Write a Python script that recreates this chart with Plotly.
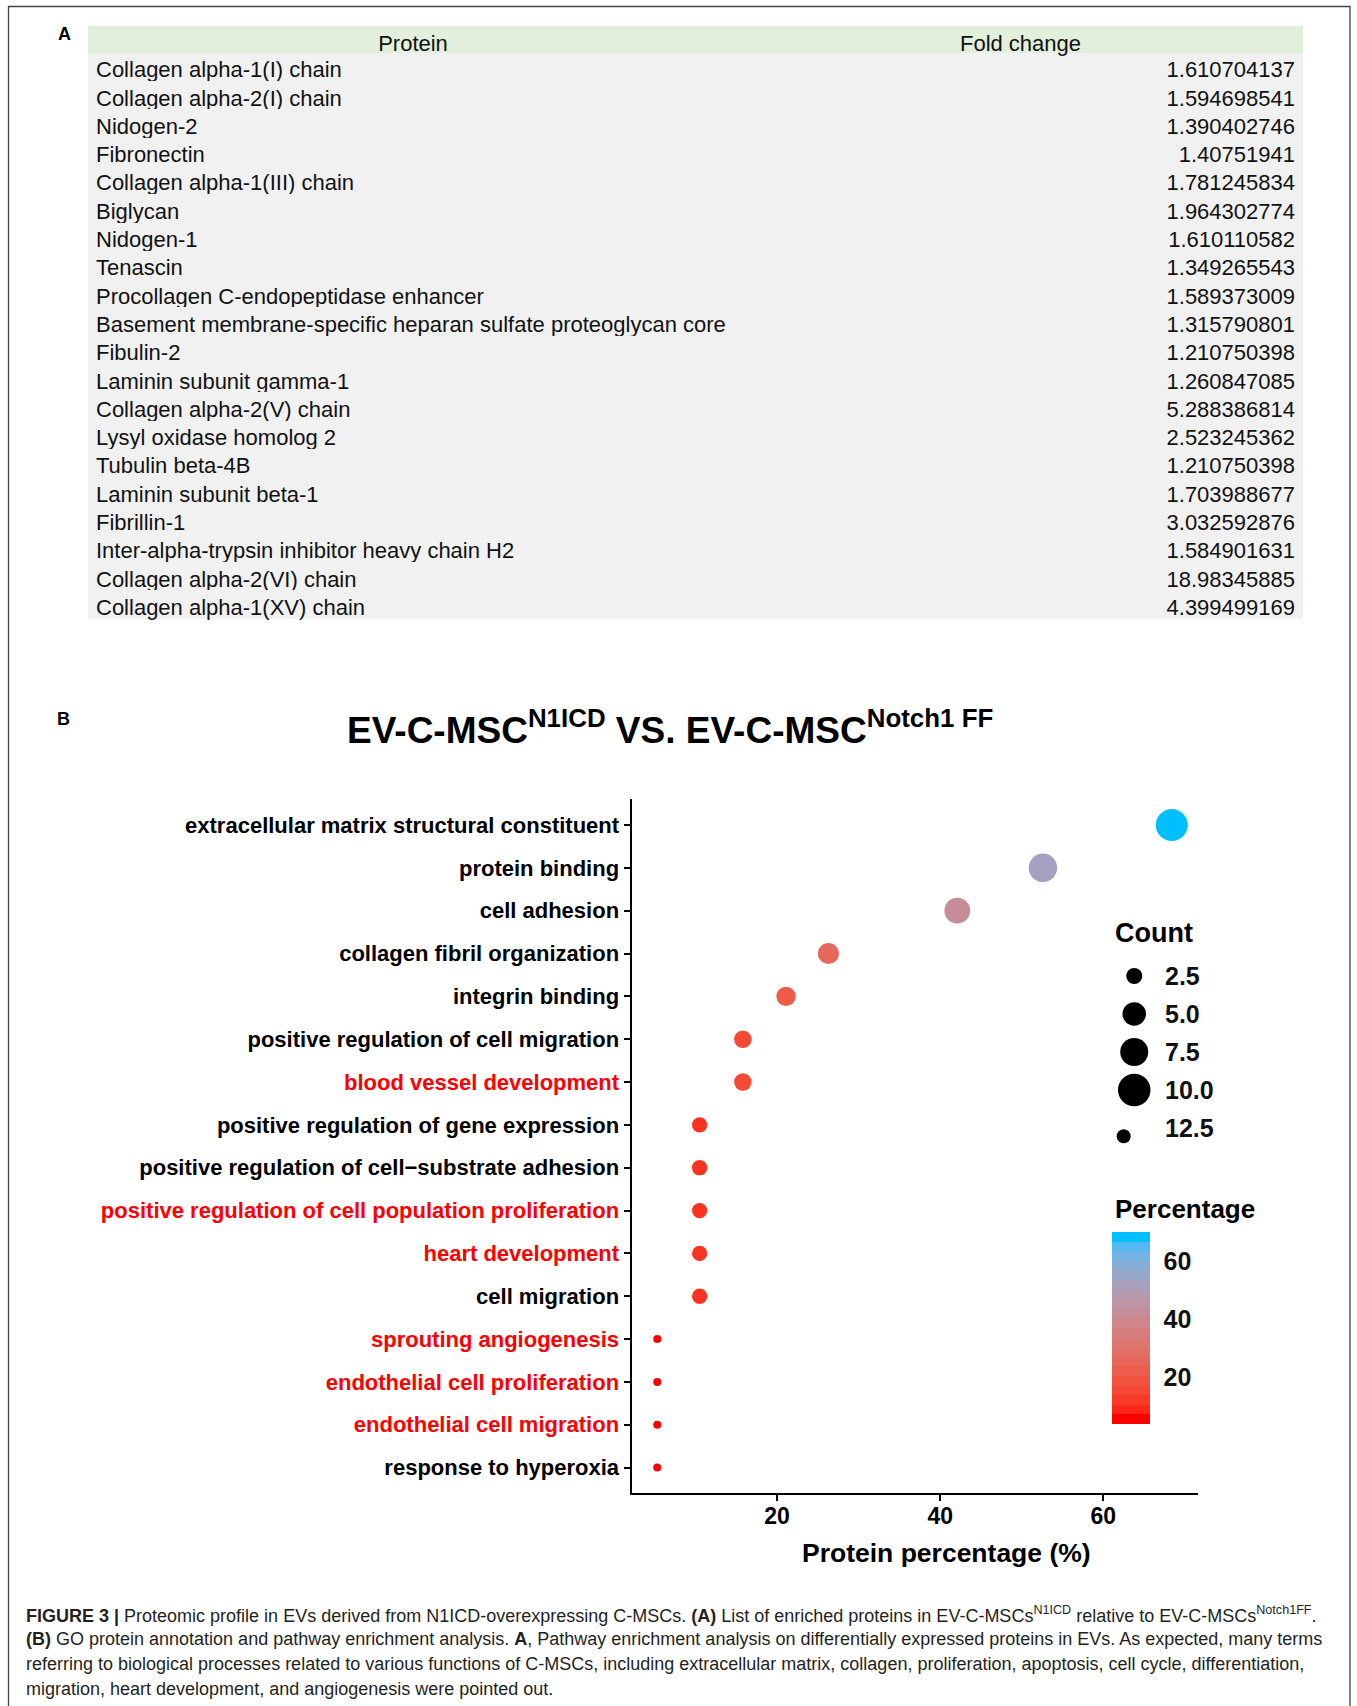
import numpy as np
import plotly.graph_objects as go

W, H = 1357, 1706
FONT = "Liberation Sans, Arial, Helvetica, sans-serif"

# ---------------- Panel A data ----------------
proteins = [
    "Collagen alpha-1(I) chain", "Collagen alpha-2(I) chain", "Nidogen-2", "Fibronectin",
    "Collagen alpha-1(III) chain", "Biglycan", "Nidogen-1", "Tenascin",
    "Procollagen C-endopeptidase enhancer",
    "Basement membrane-specific heparan sulfate proteoglycan core",
    "Fibulin-2", "Laminin subunit gamma-1", "Collagen alpha-2(V) chain",
    "Lysyl oxidase homolog 2", "Tubulin beta-4B", "Laminin subunit beta-1",
    "Fibrillin-1", "Inter-alpha-trypsin inhibitor heavy chain H2",
    "Collagen alpha-2(VI) chain", "Collagen alpha-1(XV) chain",
]
fold_change = [
    1.610704137, 1.594698541, 1.390402746, 1.40751941, 1.781245834, 1.964302774,
    1.610110582, 1.349265543, 1.589373009, 1.315790801, 1.210750398, 1.260847085,
    5.288386814, 2.523245362, 1.210750398, 1.703988677, 3.032592876, 1.584901631,
    18.98345885, 4.399499169,
]
table_headers = ["Protein", "Fold change"]

# ---------------- Panel B data ----------------
go_terms = [
    "extracellular matrix structural constituent", "protein binding", "cell adhesion",
    "collagen fibril organization", "integrin binding",
    "positive regulation of cell migration", "blood vessel development",
    "positive regulation of gene expression",
    "positive regulation of cell\u2212substrate adhesion",
    "positive regulation of cell population proliferation", "heart development",
    "cell migration", "sprouting angiogenesis", "endothelial cell proliferation",
    "endothelial cell migration", "response to hyperoxia",
]
protein_pct = [68.4, 52.6, 42.1, 26.3, 21.1, 15.8, 15.8, 10.5, 10.5, 10.5, 10.5, 10.5,
               5.3, 5.3, 5.3, 5.3]
counts = [13, 10, 8, 5, 4, 3, 3, 2, 2, 2, 2, 2, 1, 1, 1, 1]
highlighted_terms = [
    "blood vessel development", "positive regulation of cell population proliferation",
    "heart development", "sprouting angiogenesis", "endothelial cell proliferation",
    "endothelial cell migration",
]
x_tick_values = [20, 40, 60]
legend_counts = [2.5, 5.0, 7.5, 10.0, 12.5]
colorbar_ticks = [20, 40, 60]

# ---------------- style helpers ----------------
def fx(px):
    return px / W


def fy(py):
    return 1 - py / H


M = np.array([[0.4124564, 0.3575761, 0.1804375],
              [0.2126729, 0.7151522, 0.0721750],
              [0.0193339, 0.1191920, 0.9503041]])
WHITE = np.array([0.95047, 1.0, 1.08883])


def hex_to_lab(h):
    rgb = np.array([int(h[i:i + 2], 16) for i in (1, 3, 5)], float) / 255
    lin = np.where(rgb <= 0.04045, rgb / 12.92, ((rgb + 0.055) / 1.055) ** 2.4)
    xyz = M @ lin / WHITE
    f = np.where(xyz > 0.008856, np.cbrt(xyz), 7.787 * xyz + 16 / 116)
    return np.array([116 * f[1] - 16, 500 * (f[0] - f[1]), 200 * (f[1] - f[2])])


def lab_to_hex(lab):
    L, a, b = lab
    fyv = (L + 16) / 116
    f = np.array([fyv + a / 500, fyv, fyv - b / 200])
    xyz = np.where(f ** 3 > 0.008856, f ** 3, (f - 16 / 116) / 7.787) * WHITE
    lin = np.clip(np.linalg.solve(M, xyz), 0, 1)
    s = np.where(lin <= 0.0031308, 12.92 * lin, 1.055 * lin ** (1 / 2.4) - 0.055)
    s = np.clip(s, 0, 1)
    return "#%02x%02x%02x" % tuple(int(round(v * 255)) for v in s)


LOW, HIGH = hex_to_lab("#ff0000"), hex_to_lab("#00bfff")


def ramp(t):
    return lab_to_hex(LOW + (HIGH - LOW) * t)


smooth_scale = [[t, ramp(t)] for t in np.linspace(0, 1, 25)]

pmin, pmax = min(protein_pct), max(protein_pct)
NBIN = 20
half_bin = (pmax - pmin) / (NBIN - 1) / 2
bar_lo, bar_hi = pmin - half_bin, pmax + half_bin
stepped_scale = []
for i in range(NBIN):
    c = ramp(i / (NBIN - 1))
    stepped_scale.append([i / NBIN, c])
    stepped_scale.append([(i + 1) / NBIN, c])


def count_to_diameter(c):
    return float(np.sqrt(np.interp(c, [1, 2, 13], [64, 234, 1024])))


dot_sizes = [count_to_diameter(c) for c in counts]
legend_key_diam = [16, 23.5, 28, 32.5, 14]
legend_key_x = [0.214, 0.214, 0.214, 0.214, 0.148]
legend_key_dy = [0, 0, 0, 0, 0.55]

span = pmax - pmin
x_range = [pmin - 0.05 * span, pmax + 0.05 * span]

tick_text = [
    ('<span style="color:#ff0000">%s</span>' % t) if t in highlighted_terms else t
    for t in go_terms
]

# non-breaking spaces keep each protein name on one line inside the table
protein_cells = [p.replace(" ", "\u00a0") for p in proteins]

fig = go.Figure()

# ---------------- Panel A table ----------------
fig.add_trace(go.Table(
    domain=dict(x=[fx(88), fx(1303.5)], y=[fy(660), fy(26)]),
    columnwidth=[650, 565],
    header=dict(values=table_headers, fill_color="#e2efda", align="center",
                line=dict(color="#e2efda", width=0), height=26.7,
                font=dict(family=FONT, size=22, color="#111111")),
    cells=dict(values=[protein_cells, fold_change], fill_color="#f1f1f1",
               align=["left", "right"], line=dict(color="#f1f1f1", width=0),
               height=28.3, font=dict(family=FONT, size=22, color="#111111")),
))

# ---------------- Panel B dot plot ----------------
fig.add_trace(go.Scatter(
    x=protein_pct, y=go_terms, mode="markers", xaxis="x", yaxis="y",
    marker=dict(size=dot_sizes, color=protein_pct, colorscale=smooth_scale,
                cmin=pmin, cmax=pmax, showscale=False, line=dict(width=0), opacity=1),
    hovertemplate="%{y}<br>%{x}%<extra></extra>",
))

CB_LEFT, CB_TOP, CB_LEN, CB_THICK = 1112.3, 1232.3, 191.7, 38.4
fig.add_trace(go.Scatter(
    x=[None] * len(protein_pct), y=[None] * len(protein_pct), mode="markers",
    xaxis="x2", yaxis="y2", hoverinfo="skip",
    marker=dict(color=protein_pct, colorscale=stepped_scale, cmin=bar_lo, cmax=bar_hi,
                showscale=True,
                colorbar=dict(x=fx(CB_LEFT), xanchor="left", y=fy(CB_TOP + CB_LEN / 2),
                              yanchor="middle", len=CB_LEN, lenmode="pixels",
                              thickness=CB_THICK, thicknessmode="pixels", xpad=0, ypad=0,
                              outlinewidth=0, tickvals=colorbar_ticks, ticks="outside",
                              ticklen=9, tickcolor="rgba(0,0,0,0)",
                              tickfont=dict(family=FONT, size=25, color="#111111",
                                            weight="bold"))),
))

# size legend keys
fig.add_trace(go.Scatter(
    x=legend_key_x, y=[v + d for v, d in zip(legend_counts, legend_key_dy)],
    mode="markers", xaxis="x2", yaxis="y2", hoverinfo="skip",
    marker=dict(size=legend_key_diam, color="#000000", opacity=1, line=dict(width=0)),
))

annotations = []
for v in legend_counts:
    annotations.append(dict(x=0.396, y=v, xref="x2", yref="y2", text="%.1f" % v,
                            xanchor="left", yanchor="middle", showarrow=False,
                            font=dict(family=FONT, size=25, color="#111111", weight="bold")))

annotations += [
    dict(x=fx(64.7), y=fy(34), xref="paper", yref="paper", text="<b>A</b>",
         showarrow=False, xanchor="center", yanchor="middle",
         font=dict(family=FONT, size=18, color="black")),
    dict(x=fx(63.5), y=fy(718.5), xref="paper", yref="paper", text="<b>B</b>",
         showarrow=False, xanchor="center", yanchor="middle",
         font=dict(family=FONT, size=18, color="black")),
    dict(x=fx(669.5), y=fy(727), xref="paper", yref="paper",
         text="<b>EV-C-MSC<sup>N1ICD</sup> VS. EV-C-MSC<sup>Notch1 FF</sup></b>",
         showarrow=False, xanchor="center", yanchor="middle",
         font=dict(family=FONT, size=37, color="black")),
    dict(x=fx(946), y=fy(1553), xref="paper", yref="paper",
         text="<b>Protein percentage (%)</b>", showarrow=False,
         xanchor="center", yanchor="middle",
         font=dict(family=FONT, size=26.5, color="black")),
    dict(x=fx(1112.7), y=fy(933), xref="paper", yref="paper", text="<b>Count</b>",
         showarrow=False, xanchor="left", yanchor="middle",
         font=dict(family=FONT, size=27, color="black")),
    dict(x=fx(1113), y=fy(1209), xref="paper", yref="paper", text="<b>Percentage</b>",
         showarrow=False, xanchor="left", yanchor="middle",
         font=dict(family=FONT, size=26, color="black")),
]

caption_lines = [
    "<b>FIGURE 3 |</b> Proteomic profile in EVs derived from N1ICD-overexpressing C-MSCs. "
    "<b>(A)</b> List of enriched proteins in EV-C-MSCs<sup>N1ICD</sup> relative to "
    "EV-C-MSCs<sup>Notch1FF</sup>.",
    "<b>(B)</b> GO protein annotation and pathway enrichment analysis. <b>A</b>, Pathway "
    "enrichment analysis on differentially expressed proteins in EVs. As expected, many terms",
    "referring to biological processes related to various functions of C-MSCs, including "
    "extracellular matrix, collagen, proliferation, apoptosis, cell cycle, differentiation,",
    "migration, heart development, and angiogenesis were pointed out.",
]
for i, line in enumerate(caption_lines):
    annotations.append(dict(x=fx(24), y=fy(1614 + 25 * i), xref="paper", yref="paper",
                            text=line, showarrow=False, xanchor="left", yanchor="middle",
                            align="left",
                            font=dict(family=FONT, size=18, color="#231f20")))

shapes = [dict(type="rect", xref="paper", yref="paper", x0=fx(8.5), x1=fx(1350),
               y0=fy(6.5), y1=fy(1730), line=dict(color="#444444", width=1.3),
               fillcolor="rgba(0,0,0,0)", layer="below")]
for v in colorbar_ticks:
    ypx = CB_TOP + CB_LEN * (bar_hi - v) / (bar_hi - bar_lo)
    for xa, xb in [(CB_LEFT, CB_LEFT + 7.7), (CB_LEFT + CB_THICK - 7.7, CB_LEFT + CB_THICK)]:
        shapes.append(dict(type="line", xref="paper", yref="paper", x0=fx(xa), x1=fx(xb),
                           y0=fy(ypx), y1=fy(ypx), line=dict(color="white", width=1.4),
                           layer="above"))

fig.update_layout(
    width=W, height=H, autosize=False, margin=dict(l=0, r=0, t=0, b=0),
    paper_bgcolor="white", plot_bgcolor="white", showlegend=False,
    xaxis=dict(domain=[fx(631.5), fx(1197.5)], range=x_range, anchor="y",
               tickmode="array", tickvals=x_tick_values, ticks="outside", ticklen=6,
               tickwidth=1.6, tickcolor="black", showline=True, linewidth=2,
               linecolor="black", showgrid=False, zeroline=False, ticklabelstandoff=-5,
               tickfont=dict(family=FONT, size=23, color="black", weight="bold")),
    yaxis=dict(domain=[fy(1493.3), fy(799.3)], type="category", anchor="x",
               categoryorder="array", categoryarray=list(reversed(go_terms)),
               range=[-0.6, len(go_terms) - 0.4], tickmode="array", tickvals=go_terms,
               ticktext=tick_text, ticks="outside", ticklen=6, tickwidth=1.6,
               tickcolor="black", showline=True, linewidth=2, linecolor="black",
               showgrid=False, zeroline=False,
               tickfont=dict(family=FONT, size=22, color="black", weight="bold")),
    xaxis2=dict(domain=[fx(1100), fx(1260)], range=[0, 1], anchor="y2", visible=False,
                fixedrange=True),
    yaxis2=dict(domain=[fy(1150), fy(950)], range=[13.95, 0.79], anchor="x2",
                visible=False, fixedrange=True),
    annotations=annotations, shapes=shapes,
)

fig.write_html("out.html", config={"displayModeBar": False},
               post_script="document.body.style.margin='0px';"
                           "document.body.style.overflow='hidden';")
